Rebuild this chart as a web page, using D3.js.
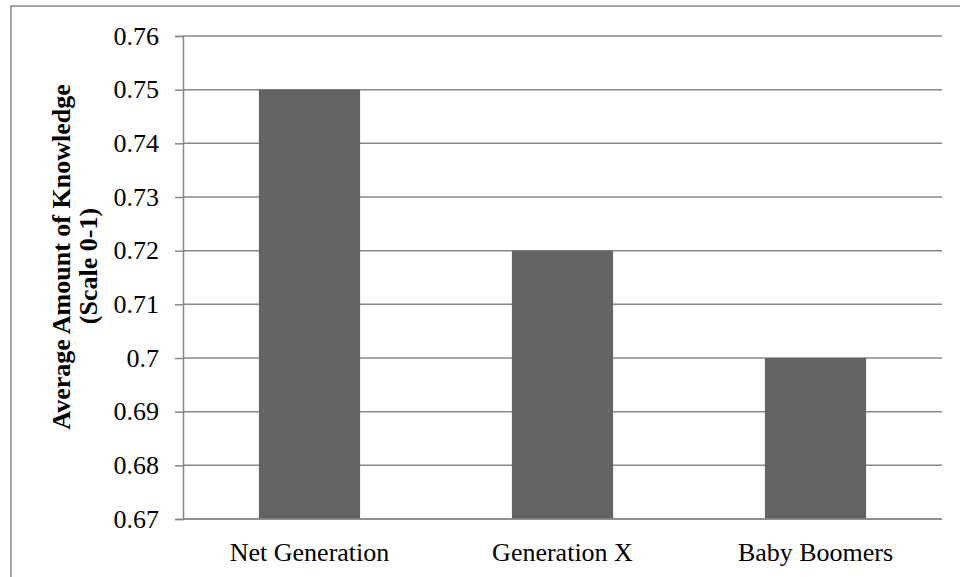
<!DOCTYPE html>
<html>
<head>
<meta charset="utf-8">
<script src="https://cdn.jsdelivr.net/npm/d3@7/dist/d3.min.js"></script>
<style>
  html, body { margin: 0; padding: 0; background: #fff; }
  svg { display: block; }
</style>
</head>
<body>
<svg id="chart" width="960" height="577"></svg>
<script>
// Average knowledge score by generation
const categories = ["Net Generation", "Generation X", "Baby Boomers"];
const values = [0.75, 0.72, 0.70];
const yTicks = [0.67, 0.68, 0.69, 0.70, 0.71, 0.72, 0.73, 0.74, 0.75, 0.76];
const yTickLabels = ["0.67", "0.68", "0.69", "0.7", "0.71", "0.72", "0.73", "0.74", "0.75", "0.76"];
const yTitleLines = ["Average Amount of Knowledge", "(Scale 0-1)"];

const svg = d3.select("#chart");
const font = "'Liberation Serif', 'Times New Roman', serif";
const fontSize = "26px";
const lineColor = "#888888";

// chart frame (extends past the right and bottom edges)
svg.append("rect")
  .attr("x", 11).attr("y", 6)
  .attr("width", 960).attr("height", 600)
  .attr("fill", "none").attr("stroke", lineColor).attr("stroke-width", 1.5);

const plot = { left: 183, right: 942, top: 36, bottom: 519 };

const x = d3.scaleBand()
  .domain(categories)
  .range([plot.left, plot.right])
  .paddingInner(0.6)
  .paddingOuter(0.3);

const y = d3.scaleLinear()
  .domain([0.67, 0.76])
  .range([plot.bottom, plot.top]);

// horizontal gridlines
svg.append("g")
  .selectAll("line")
  .data(yTicks)
  .join("line")
  .attr("x1", plot.left).attr("x2", plot.right)
  .attr("y1", d => y(d)).attr("y2", d => y(d))
  .attr("stroke", lineColor).attr("stroke-width", 1.5);

// bars
svg.append("g")
  .selectAll("rect")
  .data(categories.map((c, i) => ({ c, v: values[i] })))
  .join("rect")
  .attr("x", d => x(d.c))
  .attr("width", x.bandwidth())
  .attr("y", d => y(d.v))
  .attr("height", d => y(0.67) - y(d.v))
  .attr("fill", "#636363");

// y axis with outward tick marks
const yAxis = d3.axisLeft(y)
  .tickValues(yTicks)
  .tickFormat((d, i) => yTickLabels[i])
  .tickSize(8)
  .tickPadding(16);

const gy = svg.append("g")
  .attr("transform", `translate(${plot.left},0)`)
  .call(yAxis);
gy.select(".domain").attr("stroke", lineColor).attr("stroke-width", 1.5);
gy.selectAll(".tick line").attr("stroke", lineColor).attr("stroke-width", 1.5);
gy.selectAll(".tick text")
  .attr("fill", "#000")
  .style("font-family", font)
  .style("font-size", fontSize);

// x axis
const xAxis = d3.axisBottom(x).tickSize(0).tickPadding(24);
const gx = svg.append("g")
  .attr("transform", `translate(0,${plot.bottom})`)
  .call(xAxis);
gx.select(".domain").attr("stroke", lineColor).attr("stroke-width", 1.5)
  .attr("d", `M${plot.left},0H${plot.right}`);
gx.selectAll(".tick text")
  .attr("fill", "#000")
  .style("font-family", font)
  .style("font-size", fontSize);

// y axis title, two rotated lines
const titlePos = [{ x: 70, y: 257 }, { x: 97, y: 266 }];
svg.append("g")
  .selectAll("text")
  .data(yTitleLines)
  .join("text")
  .attr("transform", (d, i) => `translate(${titlePos[i].x},${titlePos[i].y}) rotate(-90)`)
  .attr("text-anchor", "middle")
  .style("font-family", font)
  .style("font-size", fontSize)
  .style("font-weight", "bold")
  .text(d => d);
</script>
</body>
</html>
